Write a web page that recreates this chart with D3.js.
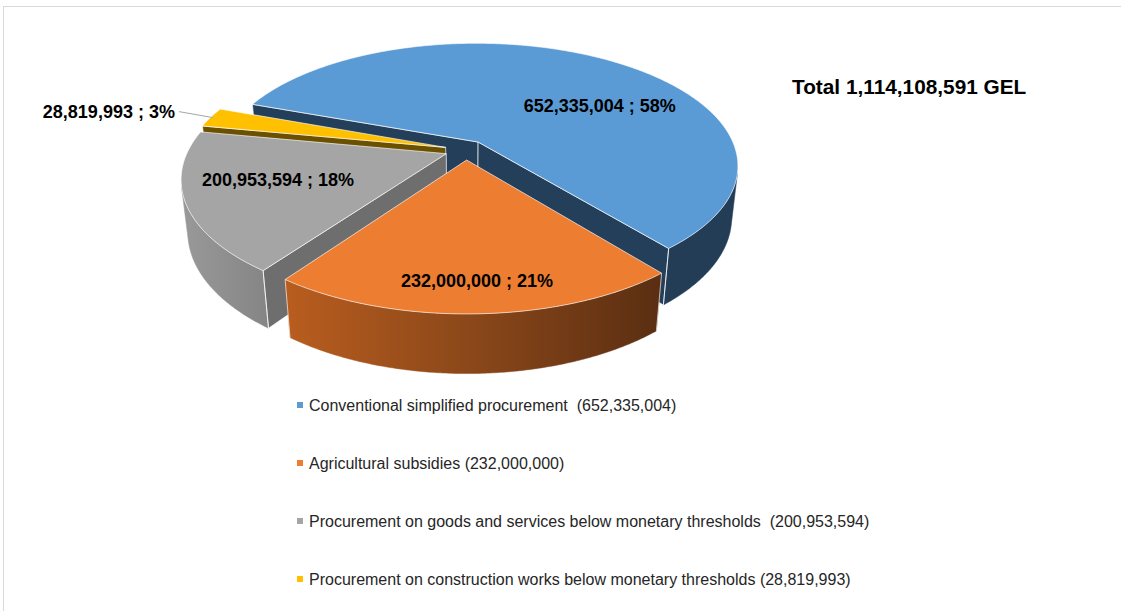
<!DOCTYPE html>
<html><head><meta charset="utf-8">
<script src="https://cdn.jsdelivr.net/npm/d3@7"></script>
<style>html,body{margin:0;padding:0;background:#fff;overflow:hidden}</style>
</head><body><svg id="c" width="1121" height="611"></svg>
<script>
// ---- data ----
const categories = [
  "Conventional simplified procurement",
  "Agricultural subsidies",
  "Procurement on goods and services below monetary thresholds",
  "Procurement on construction works below monetary thresholds"
];
const values = [652335004, 232000000, 200953594, 28819993];
const percentLabels = ["58%", "21%", "18%", "3%"];
const legendLabels = [
  "Conventional simplified procurement  (652,335,004)",
  "Agricultural subsidies (232,000,000)",
  "Procurement on goods and services below monetary thresholds  (200,953,594)",
  "Procurement on construction works below monetary thresholds (28,819,993)"
];
const totalLabel = "Total 1,114,108,591 GEL";

// ---- styles ----
const topColors = ["#5B9BD5", "#ED7D31", "#A5A5A5", "#FFC000"];
const sideFills = ["#233D56", "url(#gOrange)", "url(#gGray)", "#6B5000"];
const faceColors = ["#243F5A", "#8A4619", "#6E6E6E", "#6B5000"];
// label placement in disk units relative to each slice centre (null = outside label)
const labelOffsets = [[0.51, -0.331], [0.033, 0.82], [-0.62, 0.2024], null];

const svg = d3.select("#c");
const defs = svg.append("defs");
const gO = defs.append("linearGradient").attr("id", "gOrange").attr("x1", 0).attr("x2", 1).attr("y1", 0).attr("y2", 0);
gO.append("stop").attr("offset", 0).attr("stop-color", "#B95D1F");
gO.append("stop").attr("offset", 0.5).attr("stop-color", "#8A4719");
gO.append("stop").attr("offset", 1).attr("stop-color", "#5A2E12");
const gG = defs.append("linearGradient").attr("id", "gGray").attr("x1", 0).attr("x2", 1).attr("y1", 0).attr("y2", 0);
gG.append("stop").attr("offset", 0).attr("stop-color", "#999999");
gG.append("stop").attr("offset", 1).attr("stop-color", "#858585");

// frame
svg.append("rect").attr("x", 3.5).attr("y", 6.5).attr("width", 1300).attr("height", 800)
  .attr("fill", "none").attr("stroke", "#D9D9D9").attr("stroke-width", 1);

// ---- 3D projection ----
const TILT = 27.8 * Math.PI / 180, cA = Math.cos(TILT), sA = Math.sin(TILT);
const DIST = 4.65, SCALE = 258, CX = 466, CY = 150, DEPTH = 0.23, EXPLODE = 0.082;
function proj(X, Y, Z) {
  const w = Z * cA + Y * sA, v = Y * cA - Z * sA, k = DIST / (DIST - w);
  return [CX + SCALE * X * k, CY - SCALE * v * k];
}
const cam = [0, DIST * sA, DIST * cA];

const a0 = 290 * Math.PI / 180;
const pie = d3.pie().sort(null).startAngle(a0).endAngle(a0 + 2 * Math.PI);
const arcs = pie(values);
const line = d3.line().curve(d3.curveLinearClosed);
const step = Math.PI / 360;

function range(s, e) {
  const out = [];
  const n = Math.max(2, Math.ceil((e - s) / step));
  for (let i = 0; i <= n; i++) out.push(s + (e - s) * i / n);
  return out;
}

const slices = arcs.map((a, i) => {
  const mid = (a.startAngle + a.endAngle) / 2;
  return { a, i, mid, ox: EXPLODE * Math.sin(mid), oz: -EXPLODE * Math.cos(mid) };
});
const order = slices.slice().sort((p, q) => (-Math.cos(p.mid)) - (-Math.cos(q.mid)));

const edge = "rgba(255,255,255,0.65)";
const g = svg.append("g");

order.forEach(sl => {
  const { a, i, ox, oz } = sl;
  const rim = (t, Y) => proj(ox + Math.sin(t), Y, oz - Math.cos(t));
  const ctr = Y => proj(ox, Y, oz);
  const ts = range(a.startAngle, a.endAngle);
  const vis = t => {
    const px = ox + Math.sin(t), pz = oz - Math.cos(t);
    return (cam[0] - px) * Math.sin(t) + (cam[2] - pz) * (-Math.cos(t)) > 0;
  };
  let seg = [];
  const segs = [];
  ts.forEach(t => { if (vis(t)) seg.push(t); else { if (seg.length > 1) segs.push(seg); seg = []; } });
  if (seg.length > 1) segs.push(seg);
  segs.forEach(sg => {
    const pts = sg.map(t => rim(t, 0)).concat(sg.slice().reverse().map(t => rim(t, -DEPTH)));
    g.append("path").attr("d", line(pts)).attr("fill", sideFills[i]).attr("stroke", sideFills[i]).attr("stroke-width", 0.5);
  });
  const faces = [[a.startAngle, -1], [a.endAngle, 1]];
  faces.forEach(([t, sgn]) => {
    const nx = sgn * Math.cos(t), nz = sgn * Math.sin(t);
    const d = (cam[0] - ox) * nx + (cam[2] - oz) * nz;
    if (d > 0) {
      const pts = [ctr(0), rim(t, 0), rim(t, -DEPTH), ctr(-DEPTH)];
      g.append("path").attr("d", line(pts)).attr("fill", faceColors[i]).attr("stroke", edge).attr("stroke-width", 1);
    }
  });
  segs.forEach(sg => {
    [sg[0], sg[sg.length - 1]].forEach(t => {
      if (Math.abs(t - a.startAngle) < 1e-9 || Math.abs(t - a.endAngle) < 1e-9) {
        const p1 = rim(t, 0), p2 = rim(t, -DEPTH);
        g.append("line").attr("x1", p1[0]).attr("y1", p1[1]).attr("x2", p2[0]).attr("y2", p2[1])
          .attr("stroke", edge).attr("stroke-width", 1);
      }
    });
  });
  const tp = [ctr(0)].concat(ts.map(t => rim(t, 0)));
  g.append("path").attr("d", line(tp)).attr("fill", topColors[i]).attr("stroke", edge).attr("stroke-width", 1);
});

// ---- data labels ----
const fmt = d3.format(",");
const lblText = i => `${fmt(values[i])} ; ${percentLabels[i]}`;
const FONT = "'Liberation Sans', Arial, sans-serif";
slices.forEach(sl => {
  const i = sl.i;
  const off = labelOffsets[i];
  if (off) {
    const p = proj(sl.ox + off[0], 0, sl.oz + off[1]);
    svg.append("text").attr("x", p[0]).attr("y", p[1]).attr("dy", "0.35em")
      .attr("text-anchor", "middle").attr("font-family", FONT)
      .attr("font-weight", "bold").attr("font-size", 18).attr("fill", "#000").text(lblText(i));
  } else {
    const t = sl.mid;
    const p = proj(sl.ox + Math.sin(t) * 0.99, 0, sl.oz - Math.cos(t) * 0.99);
    const q = [p[0] - 34, p[1] - 6];
    svg.append("path").attr("d", d3.line()([q, p])).attr("stroke", "#A6A6A6").attr("fill", "none").attr("stroke-width", 1);
    svg.append("text").attr("x", q[0] - 4).attr("y", q[1]).attr("dy", "0.35em")
      .attr("text-anchor", "end").attr("font-family", FONT)
      .attr("font-weight", "bold").attr("font-size", 18).attr("fill", "#000").text(lblText(i));
  }
});

// total
svg.append("text").attr("x", 792).attr("y", 87).attr("dy", "0.35em")
  .attr("font-family", FONT).attr("font-weight", "bold")
  .attr("font-size", 20.8).attr("fill", "#000").text(totalLabel);

// ---- legend ----
const ly = d3.scalePoint().domain(d3.range(categories.length)).range([405, 579]);
const lg = svg.append("g");
categories.forEach((c, i) => {
  lg.append("rect").attr("x", 297).attr("y", ly(i) - 3).attr("width", 6).attr("height", 6).attr("fill", topColors[i]);
  lg.append("text").attr("x", 309).attr("y", ly(i)).attr("dy", "0.35em")
    .attr("font-family", FONT).attr("font-size", 16)
    .attr("fill", "#262626").style("white-space", "pre").text(legendLabels[i]);
});
</script>
</body></html>
